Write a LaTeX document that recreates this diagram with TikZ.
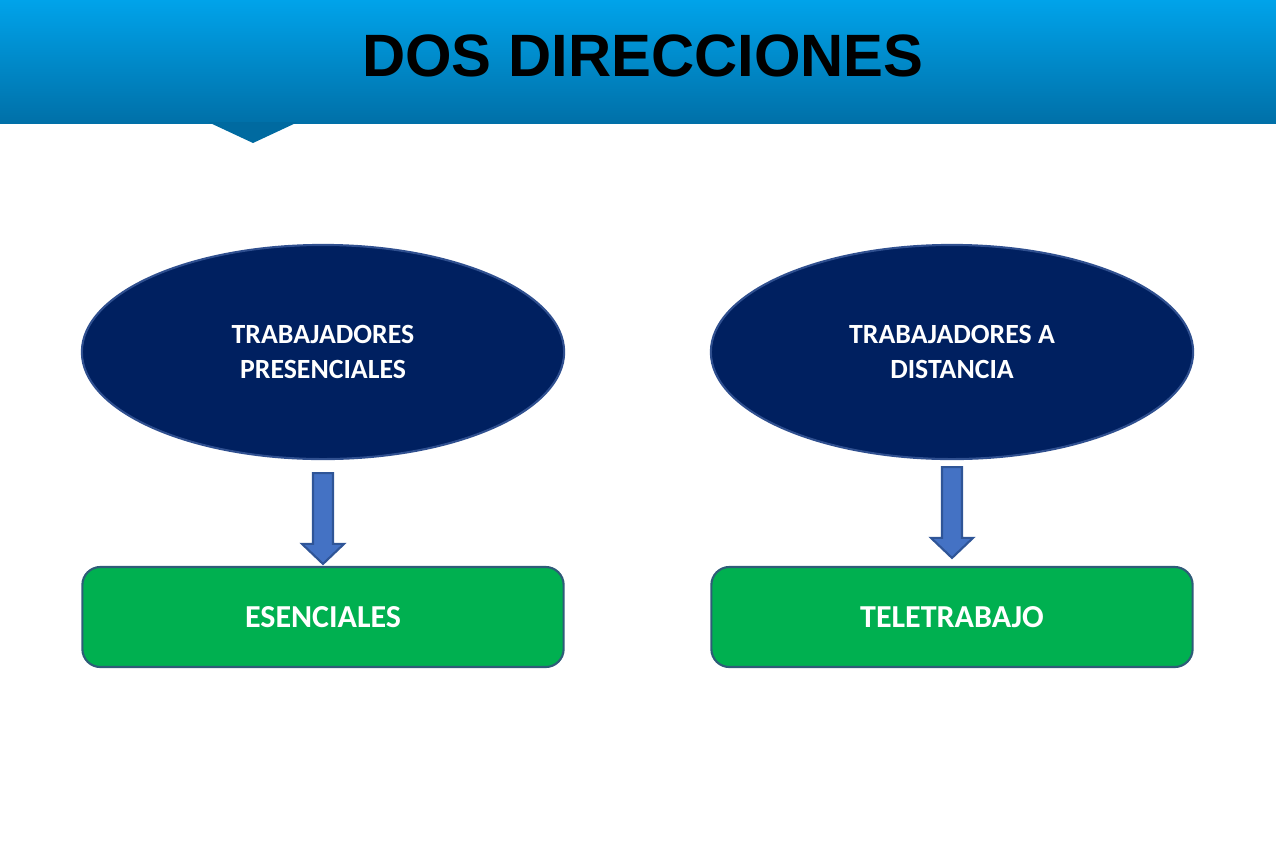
\documentclass[tikz,border=0pt]{standalone}
\usepackage{fontspec}
\setmainfont{Carlito}
\newfontfamily\titlefont{Liberation Sans}
\usetikzlibrary{positioning, calc, shapes.geometric}

\definecolor{navy}{HTML}{002060}
\definecolor{navyline}{HTML}{2F4F8F}
\definecolor{arrowblue}{HTML}{4472C4}
\definecolor{arrowline}{HTML}{2F5597}
\definecolor{boxgreen}{HTML}{00B050}
\definecolor{boxline}{HTML}{2E5C78}
\definecolor{bandtop}{HTML}{00A3EA}
\definecolor{bandbot}{HTML}{0070A8}

% shaft 20 wide, head 42 wide, head 20 long
\newcommand{\blockarrow}[2]{%
    \draw[downarrow] ($(#1)+(-10,0)$) -- ($(#1)+(10,0)$)
        -- ($(#2)+(10,-20)$) -- ($(#2)+(21,-20)$) -- (#2)
        -- ($(#2)+(-21,-20)$) -- ($(#2)+(-10,-20)$) -- cycle;}

\begin{document}
\begin{tikzpicture}[
    x=0.01cm, y=-0.01cm,
    group/.style={
        ellipse, draw=navyline, line width=0.6pt, fill=navy,
        minimum width=4.82cm, minimum height=2.14cm,
        text=white, align=center,
        font=\bfseries\fontsize{7.9pt}{9.7pt}\selectfont
    },
    mode/.style={
        rectangle, rounded corners=0.18cm, draw=boxline, line width=0.6pt,
        fill=boxgreen, minimum width=4.81cm, minimum height=1.0cm,
        text=white, font=\bfseries\fontsize{9.1pt}{10pt}\selectfont
    },
    downarrow/.style={draw=arrowline, line width=0.6pt, fill=arrowblue}
]

\useasboundingbox (0,0) rectangle (1276,851);

%% ─── HEADER BAND ────────────────────────────────────────────────────────

\shade[top color=bandtop, bottom color=bandbot] (0,0) rectangle (1276,123);
\fill[bandbot!95!black] (208,122) -- (298,122) -- (253,143) -- cycle;

\node[font=\titlefont\bfseries\fontsize{17pt}{20pt}\selectfont] (title)
    at (643,56) {DOS DIRECCIONES};

%% ─── ELLIPSES ───────────────────────────────────────────────────────────

\node[group] (pres) at (323,352) {TRABAJADORES\\PRESENCIALES};
\node[group] (dist) at (952,352) {TRABAJADORES A\\DISTANCIA};

%% ─── GREEN BOXES ────────────────────────────────────────────────────────

\node[mode] (esen) at (323,617) {ESENCIALES};
\node[mode] (tele) at (952,617) {TELETRABAJO};

%% ─── BLOCK ARROWS ───────────────────────────────────────────────────────

\coordinate (presarr) at ($(pres.south)+(0,13)$);
\coordinate (esentip) at ($(esen.north)+(0,-2)$);
\coordinate (distarr) at ($(dist.south)+(0,7)$);
\coordinate (teletip) at ($(tele.north)+(0,-8)$);

\blockarrow{presarr}{esentip}
\blockarrow{distarr}{teletip}

\end{tikzpicture}
\end{document}
